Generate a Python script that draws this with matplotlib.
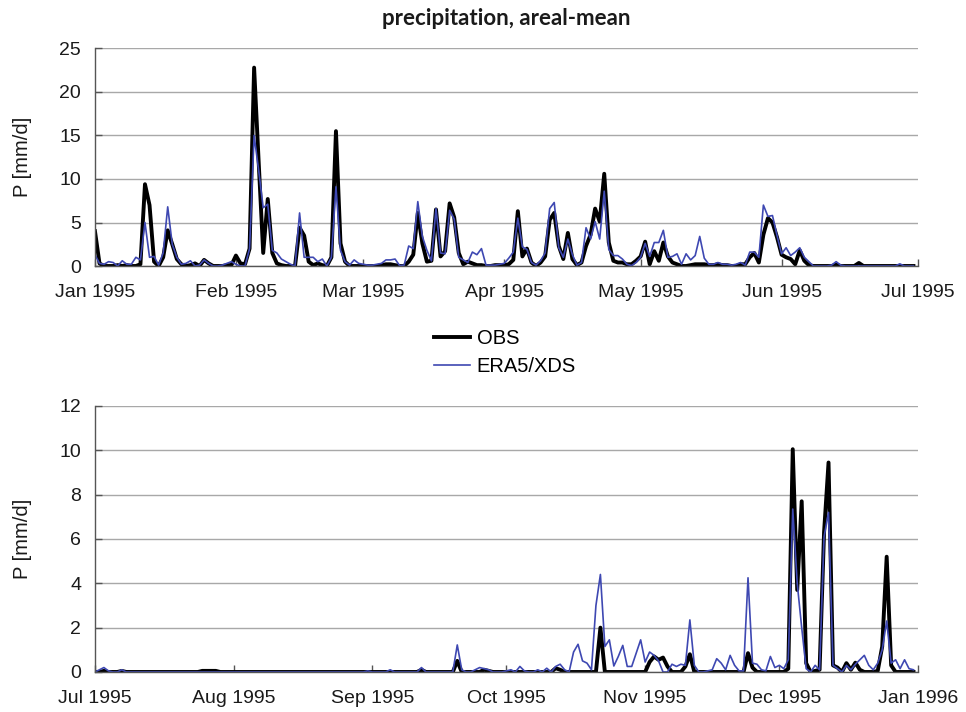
# Imports
import pandas as pd
import matplotlib
matplotlib.use('Agg')
import matplotlib.pyplot as plt
import matplotlib.dates as mdates

plt.rcParams['font.family'] = ['Liberation Sans', 'DejaVu Sans']

# Data: daily areal-mean precipitation [mm/d], first and second half of 1995
obsH1 = [4.0, 0.3, 0.0, 0.0, 0.0, 0.1, 0.0, 0.1, 0.0, 0.0,
         0.2, 9.4, 7.0, 0.5, 0.0, 1.0, 4.1, 2.5, 0.8, 0.2,
         0.0, 0.1, 0.3, 0.0, 0.7, 0.3, 0.0, 0.0, 0.0, 0.1,
         0.1, 1.2, 0.3, 0.2, 2.0, 22.8, 12.0, 1.5, 7.7, 1.5,
         0.3, 0.1, 0.0, 0.0, 0.0, 4.4, 3.5, 0.5, 0.1, 0.3,
         0.1, 0.0, 1.0, 15.5, 2.6, 0.5, 0.0, 0.0, 0.0, 0.0,
         0.0, 0.0, 0.0, 0.1, 0.2, 0.2, 0.1, 0.0, 0.0, 0.5,
         1.3, 6.1, 2.6, 0.5, 0.6, 6.5, 1.1, 1.7, 7.2, 5.6,
         1.5, 0.2, 0.5, 0.3, 0.1, 0.1, 0.0, 0.0, 0.1, 0.1,
         0.1, 0.2, 0.7, 6.3, 1.1, 2.0, 0.4, 0.0, 0.4, 1.1,
         5.3, 6.1, 2.3, 0.8, 3.8, 0.8, 0.1, 0.4, 2.3, 3.6,
         6.6, 5.1, 10.6, 2.7, 0.6, 0.4, 0.4, 0.2, 0.2, 0.6,
         1.1, 2.8, 0.2, 1.7, 0.6, 2.7, 1.1, 0.4, 0.2, 0.0,
         0.0, 0.1, 0.2, 0.2, 0.2, 0.1, 0.1, 0.2, 0.1, 0.1,
         0.0, 0.0, 0.2, 0.2, 1.0, 1.5, 0.4, 3.6, 5.5, 5.0,
         3.3, 1.3, 1.0, 0.8, 0.2, 1.8, 0.6, 0.1, 0.0, 0.0,
         0.0, 0.0, 0.0, 0.15, 0.0, 0.0, 0.0, 0.0, 0.35, 0.0,
         0.0, 0.0, 0.0, 0.0, 0.0, 0.0, 0.0, 0.0, 0.0, 0.0,
         0.0]

eraH1 = [1.3, 0.3, 0.2, 0.5, 0.4, 0.0, 0.6, 0.2, 0.2, 1.0,
         0.7, 5.0, 1.0, 1.1, 0.1, 1.5, 6.8, 2.5, 1.0, 0.2,
         0.3, 0.6, 0.0, 0.1, 0.7, 0.3, 0.0, 0.0, 0.1, 0.3,
         0.5, 0.2, 0.0, 0.0, 2.0, 15.0, 11.0, 6.7, 7.1, 1.8,
         1.5, 0.8, 0.5, 0.2, 0.0, 6.1, 1.0, 1.0, 1.0, 0.5,
         0.8, 0.0, 1.0, 9.1, 1.8, 0.5, 0.1, 0.7, 0.3, 0.2,
         0.1, 0.1, 0.2, 0.3, 0.7, 0.7, 0.8, 0.05, 0.1, 2.3,
         2.0, 7.4, 3.4, 1.8, 0.6, 6.6, 1.5, 1.4, 6.4, 5.4,
         1.0, 0.7, 0.4, 1.6, 1.3, 2.0, 0.1, 0.1, 0.1, 0.2,
         0.3, 0.9, 1.6, 5.5, 2.2, 1.9, 0.4, 0.1, 0.6, 1.5,
         6.6, 7.3, 2.1, 1.0, 3.1, 1.3, 0.1, 0.4, 4.4, 3.1,
         5.1, 3.1, 8.6, 1.9, 1.2, 1.2, 0.8, 0.2, 0.05, 0.4,
         1.0, 2.6, 1.1, 2.7, 2.7, 4.1, 1.0, 1.1, 1.4, 0.2,
         1.4, 0.7, 1.2, 3.4, 0.9, 0.2, 0.2, 0.4, 0.2, 0.2,
         0.1, 0.2, 0.4, 0.1, 1.6, 1.6, 1.0, 7.0, 5.7, 5.8,
         3.5, 1.4, 2.1, 1.2, 1.6, 2.1, 1.0, 0.5, 0.0, 0.0,
         0.0, 0.0, 0.1, 0.5, 0.1, 0.0, 0.0, 0.0, 0.0, 0.0,
         0.0, 0.0, 0.0, 0.0, 0.0, 0.0, 0.0, 0.25, 0.0, 0.0,
         0.0]

obsH2 = [0.0, 0.0, 0.05, 0.0, 0.0, 0.0, 0.05, 0.0, 0.0, 0.0,
         0.0, 0.0, 0.0, 0.0, 0.0, 0.0, 0.0, 0.0, 0.0, 0.0,
         0.0, 0.0, 0.0, 0.0, 0.05, 0.05, 0.05, 0.05, 0.0, 0.0,
         0.0, 0.0, 0.0, 0.0, 0.0, 0.0, 0.0, 0.0, 0.0, 0.0,
         0.0, 0.0, 0.0, 0.0, 0.0, 0.0, 0.0, 0.0, 0.0, 0.0,
         0.0, 0.0, 0.0, 0.0, 0.0, 0.0, 0.0, 0.0, 0.0, 0.0,
         0.0, 0.0, 0.0, 0.0, 0.0, 0.0, 0.0, 0.0, 0.0, 0.0,
         0.0, 0.0, 0.0, 0.1, 0.0, 0.0, 0.0, 0.0, 0.0, 0.0,
         0.0, 0.5, 0.0, 0.0, 0.0, 0.0, 0.0, 0.1, 0.05, 0.0,
         0.0, 0.0, 0.0, 0.0, 0.0, 0.0, 0.0, 0.0, 0.0, 0.0,
         0.0, 0.0, 0.0, 0.17, 0.1, 0.0, 0.0, 0.0, 0.0, 0.0,
         0.0, 0.0, 0.0, 2.0, 0.0, 0.0, 0.0, 0.0, 0.0, 0.0,
         0.0, 0.0, 0.0, 0.0, 0.45, 0.7, 0.55, 0.65, 0.25, 0.0,
         0.0, 0.0, 0.25, 0.8, 0.0, 0.0, 0.0, 0.0, 0.0, 0.0,
         0.0, 0.0, 0.0, 0.0, 0.0, 0.0, 0.85, 0.2, 0.0, 0.0,
         0.0, 0.0, 0.0, 0.0, 0.0, 0.15, 10.05, 3.7, 7.7, 0.4,
         0.0, 0.05, 0.1, 6.3, 9.45, 0.3, 0.2, 0.0, 0.4, 0.1,
         0.42, 0.1, 0.0, 0.0, 0.0, 0.05, 1.15, 5.2, 0.3, 0.0,
         0.0, 0.0, 0.0, 0.0]

eraH2 = [0.0, 0.1, 0.2, 0.05, 0.0, 0.0, 0.1, 0.0, 0.0, 0.0,
         0.0, 0.0, 0.0, 0.0, 0.0, 0.0, 0.0, 0.0, 0.0, 0.0,
         0.0, 0.0, 0.0, 0.0, 0.0, 0.0, 0.0, 0.0, 0.0, 0.0,
         0.0, 0.0, 0.0, 0.0, 0.0, 0.0, 0.0, 0.0, 0.0, 0.0,
         0.0, 0.0, 0.0, 0.0, 0.0, 0.0, 0.0, 0.0, 0.0, 0.0,
         0.0, 0.0, 0.0, 0.0, 0.0, 0.0, 0.0, 0.0, 0.0, 0.0,
         0.0, 0.05, 0.0, 0.0, 0.0, 0.0, 0.1, 0.0, 0.0, 0.0,
         0.0, 0.0, 0.0, 0.2, 0.0, 0.0, 0.0, 0.0, 0.0, 0.0,
         0.0, 1.22, 0.1, 0.0, 0.0, 0.1, 0.2, 0.15, 0.1, 0.0,
         0.0, 0.0, 0.05, 0.1, 0.0, 0.25, 0.05, 0.0, 0.0, 0.1,
         0.0, 0.17, 0.0, 0.25, 0.35, 0.1, 0.0, 0.9, 1.25, 0.5,
         0.4, 0.1, 3.0, 4.4, 1.15, 1.45, 0.27, 0.7, 1.2, 0.25,
         0.25, 0.85, 1.45, 0.45, 0.9, 0.75, 0.5, 0.0, 0.0, 0.35,
         0.25, 0.35, 0.3, 2.35, 0.3, 0.0, 0.0, 0.05, 0.1, 0.6,
         0.4, 0.1, 0.75, 0.3, 0.05, 0.05, 4.25, 0.4, 0.35, 0.1,
         0.05, 0.7, 0.2, 0.3, 0.15, 0.55, 7.35, 4.0, 2.0, 0.15,
         0.0, 0.3, 0.1, 6.1, 7.2, 0.3, 0.15, 0.0, 0.3, 0.1,
         0.35, 0.55, 0.75, 0.3, 0.1, 0.4, 1.0, 2.3, 0.4, 0.55,
         0.15, 0.55, 0.15, 0.1]

datesH1 = pd.date_range('1995-01-01', periods=len(obsH1), freq='D')
datesH2 = pd.date_range('1995-07-01', periods=len(obsH2), freq='D')

blue = '#3e48b2'
spineCol = '#555555'
gridCol = '#a8a8a8'


def stylePanel(ax, start, end, ymax, ystep):
    ax.set_xlim(pd.Timestamp(start), pd.Timestamp(end))
    ax.set_ylim(0, ymax)
    ax.set_yticks(range(0, ymax + 1, ystep))
    ax.xaxis.set_major_locator(mdates.MonthLocator())
    ax.xaxis.set_major_formatter(mdates.DateFormatter('%b %Y'))
    ax.grid(axis='y', color=gridCol, linewidth=1.0)
    ax.set_axisbelow(True)
    for side in ['top', 'right']:
        ax.spines[side].set_visible(False)
    for side in ['left', 'bottom']:
        ax.spines[side].set_color(spineCol)
        ax.spines[side].set_linewidth(1.0)
    ax.tick_params(axis='both', direction='in', length=5, width=1.0,
                   color=spineCol, labelsize=14, labelcolor='#1a1a1a')
    ax.tick_params(axis='x', pad=13)
    ax.tick_params(axis='y', pad=10)
    ax.set_ylabel('P [mm/d]', fontsize=14.5, color='#1a1a1a')
    ax.yaxis.set_label_coords(-0.076, 0.5)


# Figure
fig = plt.figure(figsize=(9.66, 7.12), dpi=100)
ax1 = fig.add_axes([0.0983, 0.6264, 0.852, 0.3055])
ax2 = fig.add_axes([0.0983, 0.0562, 0.852, 0.3736])

# Plot
ax1.plot(datesH1, obsH1, color='black', linewidth=2.8, label='OBS')
ax1.plot(datesH1, eraH1, color=blue, linewidth=1.2, label='ERA5/XDS')
ax2.plot(datesH2, obsH2, color='black', linewidth=2.8)
ax2.plot(datesH2, eraH2, color=blue, linewidth=1.2)

stylePanel(ax1, '1995-01-01', '1995-07-01', 25, 5)
stylePanel(ax2, '1995-07-01', '1996-01-01', 12, 2)

fig.text(0.524, 1 - 25 / 712, 'precipitation, areal-mean', ha='center',
         va='baseline', fontsize=16, fontweight='bold',
         family=['Lato', 'DejaVu Sans'], color='#1a1a1a')

fig.legend(loc='center', bbox_to_anchor=(0.523, 0.505), frameon=False,
           fontsize=14.5, handlelength=1.75, labelspacing=0.45,
           handletextpad=0.35)

fig.savefig('out.png', dpi=100)
